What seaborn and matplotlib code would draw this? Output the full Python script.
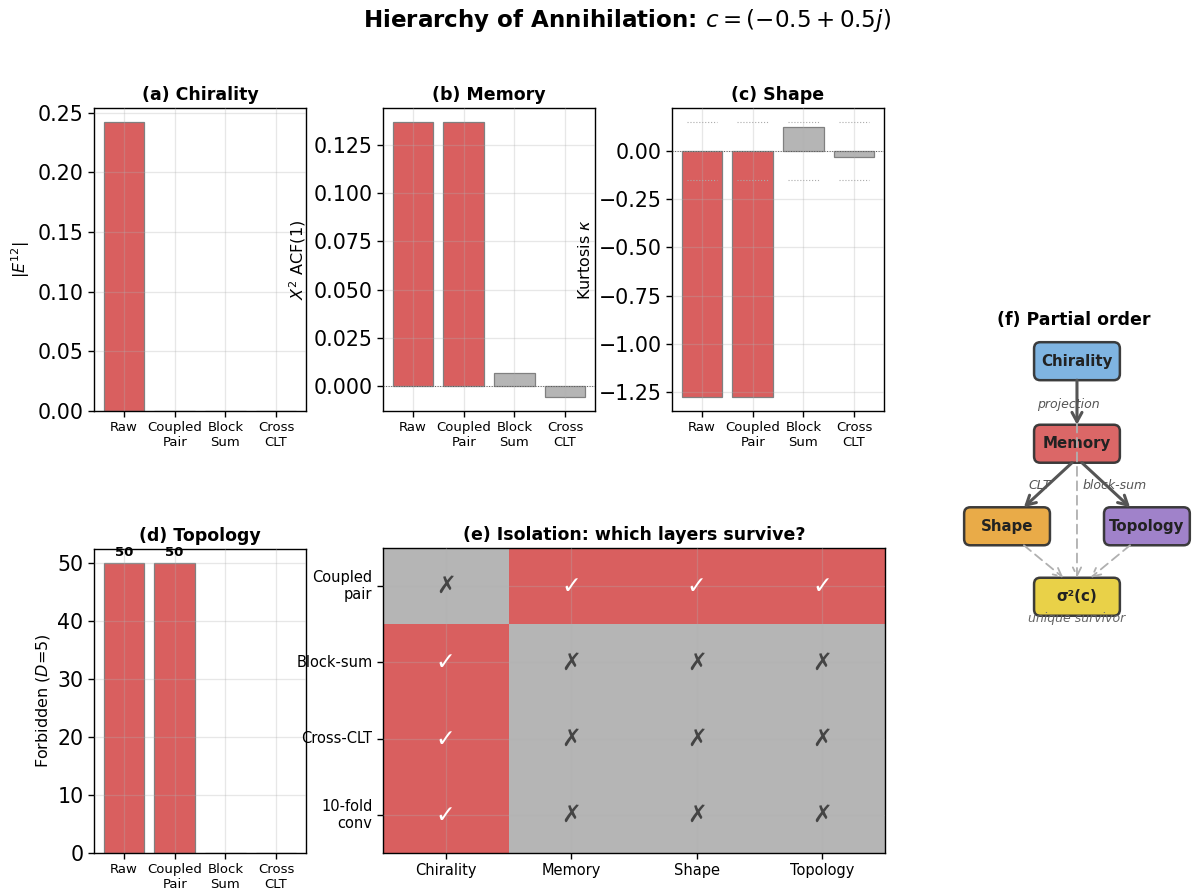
import numpy as np
import pandas as pd
import matplotlib
matplotlib.use("Agg")
import matplotlib.pyplot as plt
import seaborn as sns
from matplotlib.colors import ListedColormap
from matplotlib.patches import FancyBboxPatch
from matplotlib.ticker import MultipleLocator

# ---------------------------------------------------------------- data
methods = ["Raw", "Coupled\nPair", "Block\nSum", "Cross\nCLT"]

chirality_e12 = [0.2417, 0.0, 0.0, 0.0]
memory_acf = [0.1369, 0.1369, 0.0067, -0.0056]
shape_kurtosis = [-1.277, -1.277, 0.125, -0.03]
topology_forbidden = [50, 50, 0, 0]
kurtosis_band = 0.15

# which layer each method leaves intact
chirality_alive = [True, False, False, False]
memory_alive = [True, True, False, False]
shape_alive = [True, True, False, False]
topology_alive = [True, True, False, False]

iso_rows = ["Coupled\npair", "Block-sum", "Cross-CLT", "10-fold\nconv"]
iso_cols = ["Chirality", "Memory", "Shape", "Topology"]
iso_survive = [
    [0, 1, 1, 1],
    [1, 0, 0, 0],
    [1, 0, 0, 0],
    [1, 0, 0, 0],
]

order_nodes = ["Chirality", "Memory", "Shape", "Topology", "σ²(c)"]
order_colors = ["#78b0e0", "#d95f5f", "#e8a73e", "#9b7bc8", "#e8cf3e"]
order_edges = [  # (source, target, label, solid)
    ("Chirality", "Memory", "projection", True),
    ("Memory", "Shape", "CLT", True),
    ("Memory", "Topology", "block-sum", True),
    ("Chirality", "σ²(c)", None, False),
    ("Shape", "σ²(c)", None, False),
    ("Topology", "σ²(c)", None, False),
]

RED = "#d95f5f"
GRAY = "#b5b5b5"

# ---------------------------------------------------------------- style
sns.set_theme(style="ticks")
plt.rcParams.update({
    "font.family": ["DejaVu Sans"],
    "text.color": "black",
    "axes.labelcolor": "black",
    "axes.titlecolor": "black",
    "xtick.color": "black",
    "ytick.color": "black",
    "axes.linewidth": 1.0,
    "axes.edgecolor": "black",
    "xtick.major.size": 4,
    "ytick.major.size": 4,
    "xtick.major.width": 1.0,
    "ytick.major.width": 1.0,
    "mathtext.fontset": "dejavusans",
})

W, H = 1198, 893
fig = plt.figure(figsize=(W / 100, H / 100), dpi=100)


def px_axes(x0, y0, x1, y1):
    return fig.add_axes([x0 / W, 1 - y1 / H, (x1 - x0) / W, (y1 - y0) / H])


def style_grid(ax):
    ax.grid(True, color="#b0b0b0", alpha=0.3, linewidth=0.9)
    ax.set_axisbelow(False)
    for sp in ax.spines.values():
        sp.set_visible(True)
        sp.set_color("black")
        sp.set_linewidth(1.0)


def bar_panel(ax, values, alive, title, ylabel, ystep):
    df = pd.DataFrame({
        "method": methods,
        "value": values,
        "state": ["alive" if a else "dead" for a in alive],
    })
    sns.barplot(data=df, x="method", y="value", hue="state",
                palette={"alive": RED, "dead": GRAY}, hue_order=["alive", "dead"],
                dodge=False, legend=False, saturation=1, width=0.8,
                edgecolor="gray", linewidth=0.9, ax=ax)
    ax.set_xlim(-0.59, len(methods) - 1 + 0.59)
    ax.yaxis.set_major_locator(MultipleLocator(ystep))
    ax.set_title(title, fontsize=12.5, fontweight="bold", pad=6)
    ax.set_xlabel("")
    ax.set_ylabel(ylabel, fontsize=11.5)
    ax.tick_params(axis="x", labelsize=9.5)
    ax.tick_params(axis="y", labelsize=14.8)
    style_grid(ax)


# (a) chirality
ax_a = px_axes(94, 108, 306, 411)
bar_panel(ax_a, chirality_e12, chirality_alive, "(a) Chirality", r"$|E^{12}|$", 0.05)

# (b) memory
ax_b = px_axes(383, 108, 595, 411)
bar_panel(ax_b, memory_acf, memory_alive, "(b) Memory", r"$X^2$ ACF(1)", 0.025)
ax_b.axhline(0, color="#333333", linewidth=0.7, linestyle=":")

# (c) shape, with the Gaussian band marked at +/- kurtosis_band
ax_c = px_axes(672, 108, 884, 411)
bar_panel(ax_c, shape_kurtosis, shape_alive, "(c) Shape", r"Kurtosis $\kappa$", 0.25)
ax_c.axhline(0, color="#333333", linewidth=0.7, linestyle=":")
xs = np.arange(len(methods))
for band in (kurtosis_band, -kurtosis_band):
    ax_c.hlines(np.full(len(xs), band), xs - 0.3, xs + 0.3,
                colors="#aaaaaa", linewidth=0.8, linestyles=":")

# (d) topology
ax_d = px_axes(94, 549, 306, 853)
bar_panel(ax_d, topology_forbidden, topology_alive, "(d) Topology",
          r"Forbidden ($D$=5)", 10)
for i, v in enumerate(topology_forbidden):
    if v > 0:
        ax_d.text(i, v + 0.8, f"{v}", ha="center", va="bottom",
                  fontsize=9.5, fontweight="bold")

# (e) isolation grid
ax_e = px_axes(383, 548, 885, 853)
iso_df = pd.DataFrame(iso_survive, index=iso_rows, columns=iso_cols)
sns.heatmap(iso_df, cmap=ListedColormap([GRAY, RED]), vmin=0, vmax=1,
            cbar=False, linewidths=0, ax=ax_e)
for i in range(len(iso_rows)):
    for j in range(len(iso_cols)):
        ok = iso_survive[i][j] == 1
        ax_e.text(j + 0.5, i + 0.5, "✓" if ok else "✗",
                  ha="center", va="center", fontsize=17,
                  color="white" if ok else "#444444")
ax_e.set_title("(e) Isolation: which layers survive?", fontsize=12.5,
               fontweight="bold", pad=6)
ax_e.set_xlabel("")
ax_e.set_ylabel("")
ax_e.tick_params(axis="x", labelsize=10.5, rotation=0, bottom=True, length=4)
ax_e.tick_params(axis="y", labelsize=10.5, rotation=0, left=True, length=4)
for lab in ax_e.get_yticklabels():
    lab.set_ha("right")
    lab.set_va("center")
style_grid(ax_e)

# (f) partial order
ax_f = px_axes(950, 333, 1198, 635)
ax_f.set_xlim(0, 10)
ax_f.set_ylim(0, 12)
ax_f.axis("off")
ax_f.set_title("(f) Partial order", fontsize=12.5, fontweight="bold", pad=6)

layout = {
    "Chirality": (5.12, 10.88),
    "Memory": (5.12, 7.60),
    "Shape": (2.30, 4.32),
    "Topology": (7.94, 4.32),
    "σ²(c)": (5.12, 1.52),
}
bw, bh = 3.3, 1.35
for name, col in zip(order_nodes, order_colors):
    cx, cy = layout[name]
    box = FancyBboxPatch((cx - bw / 2, cy - bh / 2), bw, bh,
                         boxstyle="round,pad=0.08,rounding_size=0.25",
                         facecolor=col, edgecolor="#333333", linewidth=1.8,
                         alpha=0.95, zorder=2)
    ax_f.add_patch(box)
    ax_f.text(cx, cy, name, ha="center", va="center", fontsize=10.8,
              fontweight="bold", color="#222222", zorder=3)

half_h = bh / 2 + 0.08
for src, dst, label, solid in order_edges:
    sx, sy = layout[src]
    tx, ty = layout[dst]
    dx = np.sign(tx - sx)
    if solid:
        start = (sx + 0.2 * dx, sy - half_h)
        end = (tx - 0.68 * dx, ty + half_h)
        props = dict(arrowstyle="->,head_length=0.55,head_width=0.3",
                     color="#555555", lw=2.2, shrinkA=0, shrinkB=0)
        z = 5
    else:
        start = (sx + 0.68 * dx, sy - half_h)
        end = (tx - 0.55 * dx, ty + half_h)
        props = dict(arrowstyle="->,head_length=0.5,head_width=0.25",
                     color="#b0b0b0", lw=1.3, linestyle=(0, (5, 3)),
                     shrinkA=0, shrinkB=0)
        z = 4
    ax_f.annotate("", xy=end, xytext=start, arrowprops=props, zorder=z)

    if label:
        mx = (start[0] + end[0]) / 2
        my = (start[1] + end[1]) / 2
        if dx == 0:
            ax_f.text(mx - 0.35, my - 0.1, label, ha="center", va="center",
                      fontsize=9, style="italic", color="#555555", zorder=6)
        else:
            ax_f.text(mx + 0.35 * dx, my, label, ha="center", va="center",
                      fontsize=9, style="italic", color="#555555", zorder=6)

sx, sy = layout["σ²(c)"]
ax_f.text(sx, sy - half_h - 0.1, "unique survivor", ha="center", va="center",
          fontsize=9, style="italic", color="#666666", zorder=6)

fig.suptitle(r"Hierarchy of Annihilation: $c = (-0.5 + 0.5j)$",
             x=627 / W, y=1 - 20 / H, va="center", fontsize=16.6,
             fontweight="bold", color="black")

fig.savefig("out.png", dpi=100)
